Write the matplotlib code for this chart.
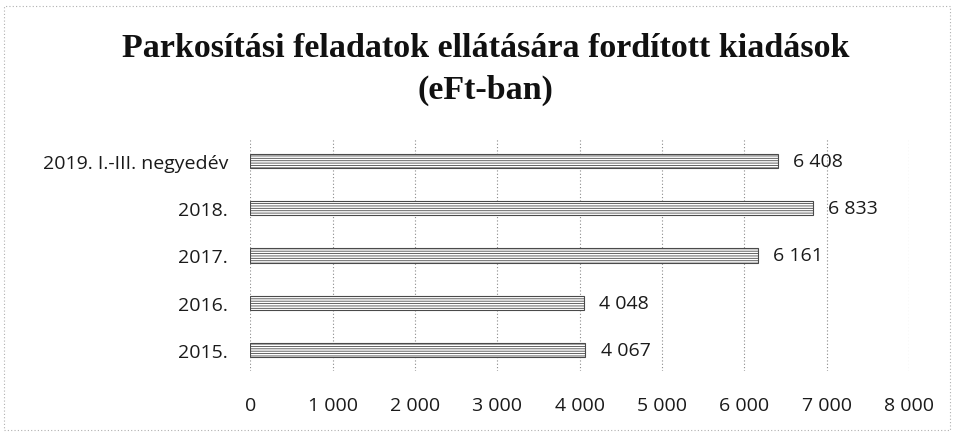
import matplotlib

matplotlib.use("Agg")
import matplotlib.pyplot as plt
from matplotlib.patches import Rectangle

plt.rcParams["hatch.linewidth"] = 0.6

# Adatok
kategoriak = ["2015.", "2016.", "2017.", "2018.", "2019. I.-III. negyedév"]
kiadasok = [4067, 4048, 6161, 6833, 6408]
x_tickek = [0, 1000, 2000, 3000, 4000, 5000, 6000, 7000, 8000]


def ezres(v):
    s = f"{int(v):,}".replace(",", " ")
    return s


fig = plt.figure(figsize=(9.56, 4.35), dpi=100)
fig.patch.set_facecolor("white")
ax = fig.add_axes([0.262, 0.145, 0.689, 0.533])

y = list(range(len(kategoriak)))
bars = ax.barh(
    y,
    kiadasok,
    height=0.3,
    color="white",
    edgecolor="#4a4a4a",
    hatch="-------",
    linewidth=0.8,
    zorder=3,
)

for yi, v in zip(y, kiadasok):
    ax.annotate(
        ezres(v),
        xy=(v, yi),
        xytext=(11, 0),
        textcoords="offset points",
        ha="left",
        va="center",
        fontsize=14,
        family="Open Sans",
        color="#1a1a1a",
    )

ax.set_xlim(0, 8000)
ax.set_ylim(-0.45, 4.47)
ax.set_xticks(x_tickek)
ax.set_xticklabels([ezres(t) for t in x_tickek], family="Open Sans", fontsize=14, color="#1a1a1a")
ax.set_yticks(y)
ax.set_yticklabels(kategoriak, family="Open Sans", fontsize=14, color="#1a1a1a")
ax.tick_params(axis="x", length=0, pad=18)
ax.tick_params(axis="y", length=0, pad=16)

for s in ax.spines.values():
    s.set_visible(False)
ax.grid(axis="x", linestyle=(0, (1, 2)), color="#8a8a8a", linewidth=0.8, zorder=0)
ax.set_axisbelow(True)

# Cím
fig.text(
    0.508, 0.888,
    "Parkosítási feladatok ellátására fordított kiadások",
    ha="center", va="center", fontsize=24.5, fontweight="bold",
    family="Liberation Serif", color="#111111",
)
fig.text(
    0.508, 0.792,
    "(eFt-ban)",
    ha="center", va="center", fontsize=24.5, fontweight="bold",
    family="Liberation Serif", color="#111111",
)

# Pontozott keret
keret = Rectangle(
    (0.004, 0.01), 0.99, 0.975,
    transform=fig.transFigure, fill=False,
    edgecolor="#b0b0b0", linestyle=(0, (1, 2)), linewidth=0.8,
)
fig.patches.append(keret)

fig.savefig("out.png", dpi=100, facecolor="white")
